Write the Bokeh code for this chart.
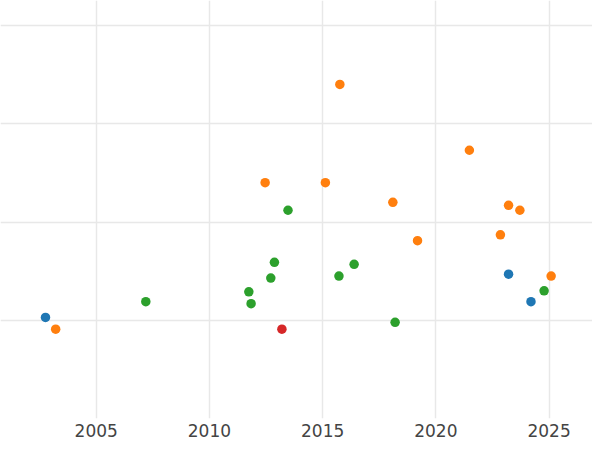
from bokeh.plotting import figure
from bokeh.models import FixedTicker, Range1d
from bokeh.embed import file_html
from bokeh.resources import INLINE

# Data (year, value) per series
blue_x = [2002.76, 2023.21, 2024.20]
blue_y = [0.03, 0.47, 0.19]

orange_x = [2003.21, 2015.76, 2012.46, 2015.12, 2021.48, 2018.10, 2019.19,
            2023.21, 2023.71, 2022.85, 2025.09]
orange_y = [-0.09, 2.40, 1.40, 1.40, 1.73, 1.20, 0.81, 1.17, 1.12, 0.87, 0.45]

green_x = [2007.19, 2013.47, 2012.87, 2011.74, 2011.84, 2012.71, 2015.72,
           2016.39, 2018.20, 2024.78]
green_y = [0.19, 1.12, 0.59, 0.29, 0.17, 0.43, 0.45, 0.57, -0.02, 0.30]

red_x = [2013.20]
red_y = [-0.09]

x_ticks = [2005, 2010, 2015, 2020, 2025]
y_ticks = [0, 1, 2, 3]

p = figure(width=592, height=442, output_backend="svg", toolbar_location=None,
           x_range=Range1d(2000.773, 2026.917), y_range=Range1d(-0.998, 3.253),
           min_border_left=0, min_border_right=0, min_border_top=0,
           min_border_bottom=24, y_axis_location=None)
p.outline_line_color = None
p.background_fill_color = "white"
p.border_fill_color = "white"

p.xaxis.ticker = FixedTicker(ticks=x_ticks)
p.xaxis.axis_line_color = None
p.xaxis.major_tick_line_color = None
p.xaxis.minor_tick_line_color = None
p.xaxis.major_tick_in = 0
p.xaxis.major_tick_out = 0
p.xaxis.major_label_standoff = 5
p.xaxis.major_label_text_font = "DejaVu Sans"
p.xaxis.major_label_text_font_size = "17px"
p.xaxis.major_label_text_color = "#444444"

p.xgrid.ticker = FixedTicker(ticks=x_ticks)
p.ygrid.ticker = FixedTicker(ticks=y_ticks)
p.xgrid.grid_line_color = "#e8e8e8"
p.ygrid.grid_line_color = "#e8e8e8"
p.xgrid.grid_line_width = 1.5
p.ygrid.grid_line_width = 1.5

for xs, ys, c in [(blue_x, blue_y, "#1f77b4"), (orange_x, orange_y, "#ff7f0e"),
                  (green_x, green_y, "#2ca02c"), (red_x, red_y, "#d62728")]:
    p.scatter(xs, ys, size=9.5, fill_color=c, line_color=None)

open("out.html", "w").write(file_html(p, INLINE))
